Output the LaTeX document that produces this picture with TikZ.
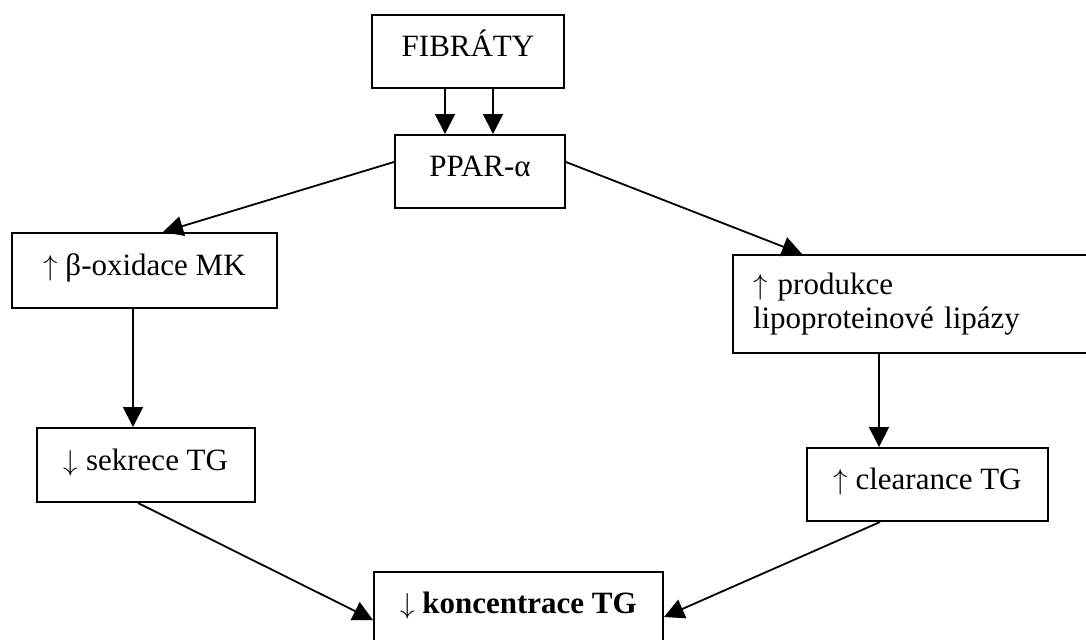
\documentclass[tikz,border=0pt]{standalone}
\usepackage{fontspec}
\setmainfont{Liberation Serif}
\usetikzlibrary{arrows.meta}
\tikzset{
  box/.style={draw, line width=1pt, minimum height=36.5pt, inner sep=0pt,
    font=\fontsize{15.5}{17}\selectfont},
  onel/.style={box, text height=10.5pt, text depth=5.5pt},
  arr/.style={line width=0.9pt, -{Triangle[length=10pt,width=10pt]}}
}
\begin{document}
\begin{tikzpicture}[x=0.5pt, y=-0.5pt]
\useasboundingbox (0,0) rectangle (1086,639);
\node[onel, minimum width=96pt] (fib) at (468,51.5) {FIBRÁTY};
\node[onel, minimum width=85pt] (ppar) at (480,171.5) {PPAR-α};
\node[onel, minimum width=132.5pt, minimum height=37.5pt] (beta) at (144.5,270.5) {$\uparrow$ β-oxidace MK};
\node[onel, minimum width=109pt, minimum height=37pt] (sekr) at (146,465) {$\downarrow$ sekrece TG};
\node[box, minimum height=49pt, text width=158.5pt, inner xsep=10pt, align=left] (prod) at (911.5,304)
  {$\uparrow$ produkce\\lipoproteinové lipázy};
\node[onel, minimum width=120.5pt] (clear) at (927.5,484.5) {$\uparrow$ clearance TG};
\node[onel, minimum width=144.5pt] (konc) at (518.5,608.5) {$\downarrow$ \textbf{koncentrace TG}};
\draw[arr] ([xshift=-11.5pt]fib.south) -- ([xshift=-11.5pt]fib.south |- ppar.north);
\draw[arr] ([xshift=12.5pt]fib.south) -- ([xshift=12.5pt]fib.south |- ppar.north);
\draw[arr] ([yshift=4.75pt]ppar.west) -- ([xshift=9.25pt]beta.north);
\draw[arr] ([yshift=4.75pt]ppar.east) -- ([xshift=35pt]prod.north west);
\draw[arr] ([xshift=-5.75pt]beta.south) -- ([xshift=-5.75pt]beta.south |- sekr.north);
\draw[arr] ([xshift=-16.25pt]prod.south) -- ([xshift=-16.25pt]prod.south |- clear.north);
\draw[arr] ([xshift=-4pt]sekr.south) -- ([yshift=-5.75pt]konc.west);
\draw[arr] ([xshift=-23.75pt]clear.south) -- ([yshift=-4.25pt]konc.east);
\end{tikzpicture}
\end{document}
